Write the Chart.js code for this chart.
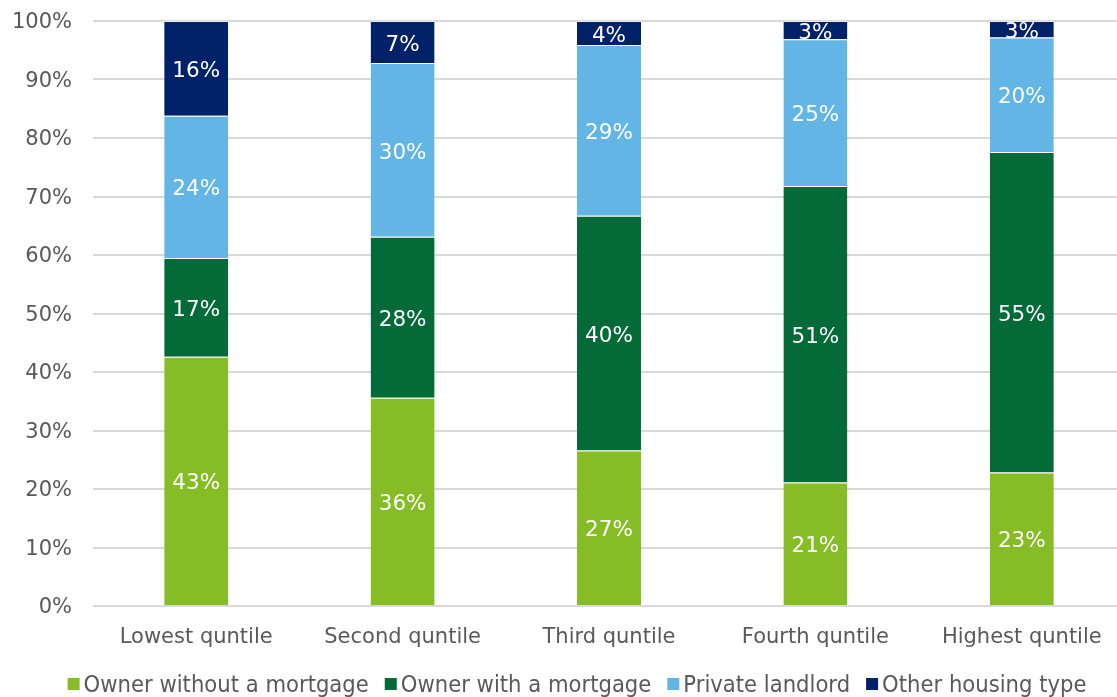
<!DOCTYPE html>
<html>
<head>
<meta charset="utf-8">
<title>Housing tenure by income quintile</title>
<script src="https://cdn.jsdelivr.net/npm/chart.js@4/dist/chart.umd.min.js"></script>
<style>
  html, body { margin: 0; padding: 0; background: #ffffff; overflow: hidden; }
  #wrap { width: 1117px; height: 697px; overflow: hidden; }
  #chart { display: block; }
</style>
</head>
<body>
<div id="wrap"><canvas id="chart" width="1125" height="697"></canvas></div>
<script>
// Income quintiles
const categories = ['Lowest quntile', 'Second quntile', 'Third quntile', 'Fourth quntile', 'Highest quntile'];

// Share of households in each tenure (%), per quintile
const ownerOutright = [42.6, 35.6, 26.6, 21.1, 22.8];
const ownerMortgage = [16.9, 27.5, 40.1, 50.7, 54.8];
const privateLandlord = [24.3, 29.7, 29.2, 25.1, 19.6];
const otherHousing = [16.2, 7.2, 4.1, 3.1, 2.8];

const seriesNames = ['Owner without a mortgage', 'Owner with a mortgage', 'Private landlord', 'Other housing type'];
const seriesColors = ['#86BC25', '#046A38', '#62B5E5', '#012169'];

// Axis ticks
const yTicks = [0, 10, 20, 30, 40, 50, 60, 70, 80, 90, 100];

const FONT = 'DejaVu Sans';
const TEXT_GREY = '#595959';

// White percentage labels in the middle of each segment
const segmentLabels = {
  id: 'segmentLabels',
  afterDatasetsDraw(chart) {
    const ctx = chart.ctx;
    ctx.save();
    ctx.font = '21.5px "' + FONT + '"';
    ctx.fillStyle = '#ffffff';
    ctx.textAlign = 'center';
    ctx.textBaseline = 'middle';
    chart.data.datasets.forEach((ds, i) => {
      const meta = chart.getDatasetMeta(i);
      meta.data.forEach((bar, j) => {
        const p = bar.getProps(['x', 'y', 'base'], true);
        ctx.fillText(Math.round(ds.data[j]) + '%', p.x, (p.y + p.base) / 2 + 3);
      });
    });
    ctx.restore();
  }
};

// Single-row legend along the bottom edge
const bottomLegend = {
  id: 'bottomLegend',
  afterDraw(chart) {
    const ctx = chart.ctx;
    const box = 12, boxGap = 4, itemGap = 16, squeeze = 0.92;
    ctx.save();
    ctx.font = '23px "' + FONT + '"';
    const widths = chart.data.datasets.map(ds => ctx.measureText(ds.label).width * squeeze);
    const total = widths.reduce((a, w) => a + w + box + boxGap, 0) + itemGap * (widths.length - 1);
    let x = 577 - total / 2;
    const cy = 685;
    ctx.textBaseline = 'middle';
    ctx.textAlign = 'left';
    chart.data.datasets.forEach((ds, i) => {
      ctx.fillStyle = ds.backgroundColor;
      ctx.fillRect(x, cy - 7, box, box);
      x += box + boxGap;
      ctx.save();
      ctx.translate(x, cy + 1);
      ctx.scale(squeeze, 1);
      ctx.fillStyle = TEXT_GREY;
      ctx.fillText(ds.label, 0, 0);
      ctx.restore();
      x += widths[i] + itemGap;
    });
    ctx.restore();
  }
};

const seriesData = [ownerOutright, ownerMortgage, privateLandlord, otherHousing];

new Chart(document.getElementById('chart'), {
  type: 'bar',
  data: {
    labels: categories,
    datasets: seriesData.map((values, i) => ({
      label: seriesNames[i],
      data: values,
      backgroundColor: seriesColors[i],
      borderColor: 'rgba(255,255,255,0.55)',
      borderWidth: { top: 1, bottom: 0, left: 0, right: 0 },
      borderSkipped: false,
      barPercentage: 0.31,
      categoryPercentage: 1
    }))
  },
  options: {
    responsive: false,
    animation: false,
    devicePixelRatio: 1,
    layout: { padding: { left: 11, right: 0, top: 21, bottom: 40 } },
    plugins: {
      legend: { display: false },
      tooltip: { enabled: false },
      title: { display: false }
    },
    scales: {
      x: {
        stacked: true,
        grid: { display: false, drawTicks: false },
        border: { display: false },
        ticks: {
          color: TEXT_GREY,
          font: { family: FONT, size: 21 },
          padding: 19
        },
        afterFit(scale) { scale.height = 51; }
      },
      y: {
        stacked: true,
        min: 0,
        max: 100,
        afterBuildTicks(scale) { scale.ticks = yTicks.map(v => ({ value: v })); },
        afterFit(scale) {
          scale.width = 82;
          scale.paddingTop = 0;
          scale.paddingBottom = 0;
        },
        grid: { color: '#d9d9d9', lineWidth: 2, drawTicks: false },
        border: { display: false },
        ticks: {
          color: TEXT_GREY,
          font: { family: FONT, size: 21 },
          padding: 21,
          labelOffset: 2,
          callback: v => v + '%'
        }
      }
    }
  },
  plugins: [segmentLabels, bottomLegend]
});
</script>
</body>
</html>
